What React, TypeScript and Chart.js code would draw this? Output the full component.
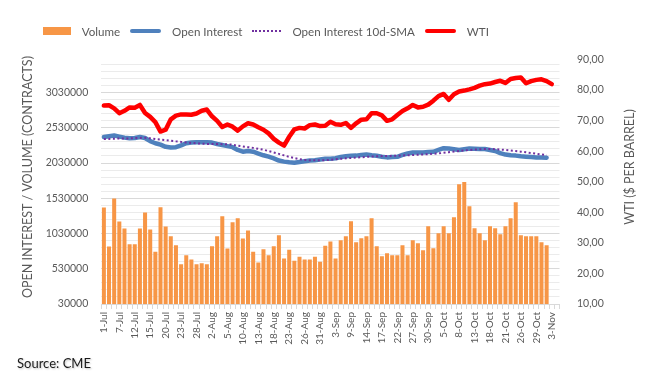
import React, { useEffect, useRef } from 'react';
import { Chart, registerables } from 'chart.js';

Chart.register(...registerables);

const FONT = 'Lato, "Open Sans", sans-serif';
const TEXT = '#595959';

// trading days, 1-Jul to 4-Nov (2021)
const dates = [
  '1-Jul', '2-Jul', '6-Jul', '7-Jul', '8-Jul', '9-Jul', '12-Jul', '13-Jul', '14-Jul', '15-Jul', '16-Jul',
  '19-Jul', '20-Jul', '21-Jul', '22-Jul', '23-Jul', '26-Jul', '27-Jul', '28-Jul', '29-Jul', '30-Jul',
  '2-Aug', '3-Aug', '4-Aug', '5-Aug', '6-Aug', '9-Aug', '10-Aug', '11-Aug', '12-Aug', '13-Aug',
  '16-Aug', '17-Aug', '18-Aug', '19-Aug', '20-Aug', '23-Aug', '24-Aug', '25-Aug', '26-Aug', '27-Aug',
  '30-Aug', '31-Aug',
  '1-Sep', '2-Sep', '3-Sep', '7-Sep', '8-Sep', '9-Sep', '10-Sep', '13-Sep', '14-Sep', '15-Sep',
  '16-Sep', '17-Sep', '20-Sep', '21-Sep', '22-Sep', '23-Sep', '24-Sep', '27-Sep', '28-Sep', '29-Sep', '30-Sep',
  '1-Oct', '4-Oct', '5-Oct', '6-Oct', '7-Oct', '8-Oct', '11-Oct', '12-Oct', '13-Oct', '14-Oct', '15-Oct',
  '18-Oct', '19-Oct', '20-Oct', '21-Oct', '22-Oct', '25-Oct', '26-Oct', '27-Oct', '28-Oct', '29-Oct',
  '1-Nov', '2-Nov', '3-Nov', '4-Nov',
];

const volume = [
  1398000, 844000, 1526000, 1199000, 1100000, 878000, 878000, 1100000, 1327000, 1086000,
  773000, 1403000, 1128000, 991000, 863000, 593000, 721000, 660000, 593000, 607000,
  593000, 849000, 991000, 1276000, 816000, 1190000, 1247000, 958000, 1071000, 773000,
  617000, 807000, 721000, 849000, 1006000, 674000, 801000, 645000, 702000, 660000,
  660000, 702000, 631000, 858000, 915000, 674000, 935000, 991000, 1205000, 906000,
  963000, 991000, 1247000, 849000, 707000, 750000, 721000, 721000, 863000, 721000,
  935000, 892000, 793000, 1134000, 821000, 1034000, 1134000, 1034000, 1262000, 1730000,
  1759000, 1418000, 1105000, 1034000, 935000, 1134000, 1105000, 1020000, 1134000, 1247000,
  1475000, 1006000, 991000, 991000, 991000, 906000, 863000,
];

const openInterest = [
  2400000, 2410000, 2420000, 2405000, 2390000, 2380000, 2385000, 2400000, 2385000, 2340000,
  2310000, 2290000, 2260000, 2250000, 2255000, 2280000, 2310000, 2320000, 2325000, 2325000,
  2325000, 2320000, 2300000, 2285000, 2270000, 2255000, 2215000, 2190000, 2200000, 2190000,
  2165000, 2140000, 2120000, 2095000, 2065000, 2050000, 2040000, 2035000, 2045000, 2055000,
  2065000, 2070000, 2080000, 2090000, 2092000, 2098000, 2115000, 2125000, 2132000, 2135000,
  2145000, 2152000, 2140000, 2132000, 2120000, 2110000, 2115000, 2118000, 2145000, 2165000,
  2178000, 2180000, 2180000, 2185000, 2189000, 2215000, 2240000, 2235000, 2225000, 2215000,
  2225000, 2236000, 2232000, 2228000, 2228000, 2215000, 2200000, 2170000, 2150000, 2140000,
  2135000, 2125000, 2120000, 2115000, 2110000, 2108000, 2105000,
];

const oiSma10 = [
  2370000, 2372000, 2375000, 2377000, 2378000, 2380000, 2383000, 2386000, 2388000, 2380000,
  2370000, 2362000, 2355000, 2345000, 2337000, 2330000, 2322000, 2315000, 2310000, 2305000,
  2300000, 2300000, 2300000, 2298000, 2295000, 2290000, 2275000, 2265000, 2255000, 2245000,
  2232000, 2218000, 2200000, 2180000, 2160000, 2138000, 2118000, 2100000, 2085000, 2075000,
  2070000, 2068000, 2068000, 2070000, 2076000, 2083000, 2090000, 2096000, 2102000, 2107000,
  2112000, 2117000, 2122000, 2126000, 2128000, 2130000, 2132000, 2134000, 2137000, 2140000,
  2143000, 2147000, 2151000, 2156000, 2161000, 2166000, 2175000, 2184000, 2193000, 2200000,
  2208000, 2215000, 2221000, 2226000, 2228000, 2228000, 2227000, 2222000, 2215000, 2207000,
  2199000, 2191000, 2182000, 2172000, 2162000, 2152000, 2142000,
];

const wti = [
  74.9, 75.0, 74.0, 72.4, 73.2, 74.3, 74.2, 75.1, 72.5, 71.2,
  69.5, 66.4, 67.0, 70.4, 71.6, 72.0, 72.0, 71.9, 72.3, 73.2,
  73.6, 71.4, 69.9, 67.9, 68.7, 68.0, 66.7, 68.1, 69.1, 68.7,
  67.8, 67.0, 65.8, 64.0, 62.8, 61.8, 64.7, 67.1, 67.6, 67.4,
  68.5, 68.7, 68.2, 68.3, 69.6, 68.8, 68.6, 69.2, 67.6, 69.1,
  70.3, 70.4, 72.4, 72.4, 71.7, 69.9, 70.4, 71.8, 73.1, 74.0,
  75.1, 74.3, 74.5, 75.2, 76.5, 78.0, 78.7, 76.8, 78.6, 79.5,
  79.8, 80.2, 80.7, 81.4, 81.9, 82.1, 82.6, 83.0, 82.3, 83.6,
  83.9, 84.1, 82.2, 82.9, 83.3, 83.5, 82.9, 81.9,
];

const leftTickLabels = [30000, 530000, 1030000, 1530000, 2030000, 2530000, 3030000];
const rightTickLabels = [10, 20, 30, 40, 50, 60, 70, 80, 90];

const COLORS = {
  volume: '#F79646',
  oi: '#4F81BD',
  sma: '#7030A0',
  wti: '#FF0000',
};

const titlesPlugin = {
  id: 'axisTitles',
  afterDraw(chart: any) {
    const ctx = chart.ctx;
    ctx.save();
    ctx.fillStyle = TEXT;
    ctx.font = `12.5px ${FONT}`;
    ctx.textAlign = 'center';
    ctx.textBaseline = 'middle';
    ctx.translate(27.5, 177);
    ctx.rotate(-Math.PI / 2);
    ctx.fillText('OPEN INTEREST / VOLUME (CONTRACTS)', 0, 0);
    ctx.restore();
    ctx.save();
    ctx.fillStyle = TEXT;
    ctx.font = `12.5px ${FONT}`;
    ctx.textAlign = 'center';
    ctx.textBaseline = 'middle';
    ctx.translate(630, 167);
    ctx.rotate(-Math.PI / 2);
    ctx.fillText('WTI ($ PER BARREL)', 0, 0);
    ctx.restore();
  },
};

function LegendItem({ kind, color, label }: { kind: string; color: string; label: string }) {
  let marker: React.ReactNode;
  if (kind === 'box') {
    marker = <span style={{ display: 'inline-block', width: 28, height: 8, background: color }} />;
  } else if (kind === 'dot') {
    marker = <span style={{ display: 'inline-block', width: 29, height: 0, borderTop: `2px dotted ${color}` }} />;
  } else {
    marker = <span style={{ display: 'inline-block', width: 31, height: 4, borderRadius: 2, background: color }} />;
  }
  return (
    <span style={{ display: 'inline-flex', alignItems: 'center', marginRight: 10 }}>
      {marker}
      <span style={{ marginLeft: 11 }}>{label}</span>
    </span>
  );
}

export default function App() {
  const ref = useRef<HTMLCanvasElement | null>(null);

  useEffect(() => {
    if (!ref.current) return;
    const minorStep = 100000;
    const chart = new Chart(ref.current, {
      data: {
        labels: dates,
        datasets: [
          {
            type: 'line',
            label: 'WTI',
            data: wti,
            yAxisID: 'y1',
            borderColor: COLORS.wti,
            backgroundColor: COLORS.wti,
            borderWidth: 4.5,
            pointRadius: 0,
            borderJoinStyle: 'round',
            borderCapStyle: 'round',
            order: 0,
          },
          {
            type: 'line',
            label: 'Open Interest 10d-SMA',
            data: oiSma10,
            yAxisID: 'y',
            borderColor: COLORS.sma,
            backgroundColor: COLORS.sma,
            borderWidth: 2,
            borderDash: [2, 2.5],
            pointRadius: 0,
            order: 1,
          },
          {
            type: 'line',
            label: 'Open Interest',
            data: openInterest,
            yAxisID: 'y',
            borderColor: COLORS.oi,
            backgroundColor: COLORS.oi,
            borderWidth: 4.5,
            pointRadius: 0,
            borderJoinStyle: 'round',
            borderCapStyle: 'round',
            order: 2,
          },
          {
            type: 'bar',
            label: 'Volume',
            data: volume,
            yAxisID: 'y',
            backgroundColor: COLORS.volume,
            barPercentage: 0.78,
            categoryPercentage: 1,
            order: 3,
          },
        ],
      } as any,
      options: {
        responsive: false,
        animation: false,
        layout: { padding: { top: 59.4, left: 0, right: 0, bottom: 0 } },
        plugins: {
          legend: { display: false },
          tooltip: { enabled: false },
        },
        scales: {
          x: {
            type: 'category',
            offset: true,
            afterFit: (s: any) => { s.height = 86; },
            grid: {
              offset: true,
              drawOnChartArea: false,
              drawTicks: true,
              tickLength: 5,
              color: '#d9d9d9',
            },
            border: { display: true, color: '#d9d9d9' },
            ticks: {
              autoSkip: false,
              maxRotation: 90,
              minRotation: 90,
              padding: 3,
              color: TEXT,
              font: { family: FONT, size: 10 },
              callback: (_v: any, i: number) => (i % 3 === 0 ? dates[i] : ''),
            },
          },
          y: {
            type: 'linear',
            position: 'left',
            min: leftTickLabels[0],
            max: 3500000,
            afterFit: (s: any) => { s.width = 101.3; },
            afterBuildTicks: (s: any) => {
              const t: any[] = [];
              for (let v = leftTickLabels[0]; v <= 3450000; v += minorStep) t.push({ value: v });
              s.ticks = t;
            },
            grid: {
              drawTicks: false,
              color: (c: any) => (leftTickLabels.includes(c.tick?.value) ? '#d9d9d9' : '#ebebeb'),
              lineWidth: 1,
            },
            border: { display: false },
            ticks: {
              autoSkip: false,
              padding: 13,
              color: TEXT,
              font: { family: FONT, size: 10.5 },
              callback: (v: any) => (leftTickLabels.includes(v) ? String(v) : ''),
            },
          },
          y1: {
            type: 'linear',
            position: 'right',
            min: rightTickLabels[0],
            max: rightTickLabels[rightTickLabels.length - 1],
            afterFit: (s: any) => { s.width = 97.5; },
            afterBuildTicks: (s: any) => { s.ticks = rightTickLabels.map((v) => ({ value: v })); },
            grid: { display: true, drawOnChartArea: false, drawTicks: false },
            border: { display: false },
            ticks: {
              autoSkip: false,
              padding: 17.5,
              color: TEXT,
              font: { family: FONT, size: 10.5 },
              callback: (v: any) => Number(v).toFixed(2).replace('.', ','),
            },
          },
        },
      } as any,
      plugins: [titlesPlugin],
    });
    return () => chart.destroy();
  }, []);

  return (
    <div style={{ position: 'fixed', left: 0, top: 0, width: 657, height: 390, background: '#fff', overflow: 'hidden' }}>
      <canvas ref={ref} width={657} height={390} style={{ position: 'absolute', left: 0, top: 0 }} />
      <div
        style={{
          position: 'absolute', left: 42.7, top: 21, height: 20, display: 'flex', alignItems: 'center',
          fontFamily: FONT, fontSize: 11.6, color: TEXT, whiteSpace: 'nowrap',
        }}
      >
        <LegendItem kind="box" color={COLORS.volume} label="Volume" />
        <LegendItem kind="line" color={COLORS.oi} label="Open Interest" />
        <LegendItem kind="dot" color={COLORS.sma} label="Open Interest 10d-SMA" />
        <LegendItem kind="line" color={COLORS.wti} label="WTI" />
      </div>
      <div
        style={{
          position: 'absolute', left: 17, top: 355, fontFamily: FONT, fontSize: 13, color: '#1a1a1a',
          textShadow: '1px 1px 2px rgba(0,0,0,0.25)', whiteSpace: 'nowrap',
        }}
      >
        Source: CME
      </div>
    </div>
  );
}
